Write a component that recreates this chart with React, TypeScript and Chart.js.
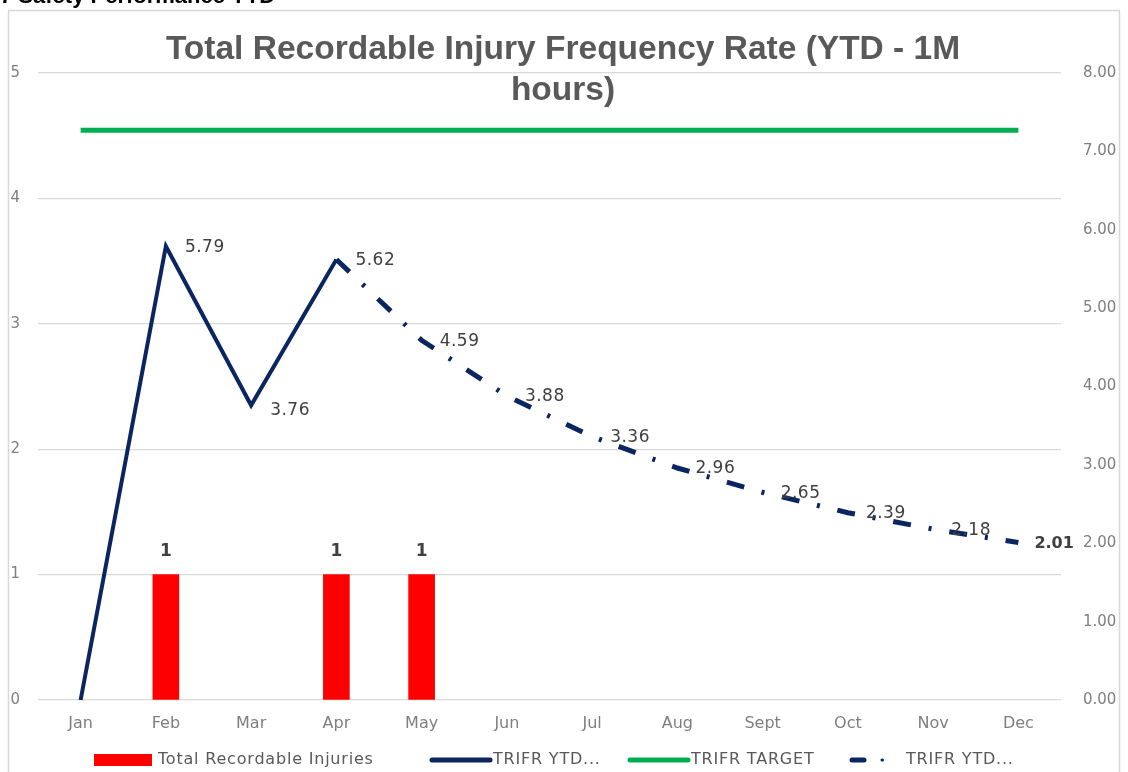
import React, { useEffect, useRef } from "react";
import { Chart, registerables } from "chart.js";

Chart.register(...registerables);

const months = ["Jan", "Feb", "Mar", "Apr", "May", "Jun", "Jul", "Aug", "Sept", "Oct", "Nov", "Dec"];
const injuries = [null, 1, null, 1, 1, null, null, null, null, null, null, null];
const trifrActual = [0, 5.79, 3.76, 5.62, null, null, null, null, null, null, null, null];
const trifrProjected = [null, null, null, 5.62, 4.59, 3.88, 3.36, 2.96, 2.65, 2.39, 2.18, 2.01];
const trifrTarget = [7.27, 7.27, 7.27, 7.27, 7.27, 7.27, 7.27, 7.27, 7.27, 7.27, 7.27, 7.27];
const leftAxisMax = 5;
const rightAxisMax = 8;
const titleLines = ["Total Recordable Injury Frequency Rate (YTD - 1M", "hours)"];
const pageHeading = "7 Safety Performance YTD";
const legendLabels = ["Total Recordable Injuries", "TRIFR YTD...", "TRIFR TARGET", "TRIFR YTD..."];

const NAVY = "#0B2560";
const GREEN = "#00B050";
const RED = "#FF0000";
const LABEL = "#404040";
const TICK = "#7F7F7F";
const FONT = "'DejaVu Sans', sans-serif";

const decorPlugin = {
  id: "decor",
  beforeDraw(chart: any) {
    const ctx = chart.ctx;
    ctx.save();
    ctx.fillStyle = "#ffffff";
    ctx.fillRect(0, 0, chart.width, chart.height);
    // outer box
    ctx.strokeStyle = "#D9D9D9";
    ctx.lineWidth = 1.5;
    ctx.beginPath();
    ctx.moveTo(8.5, chart.height + 5);
    ctx.lineTo(8.5, 10.5);
    ctx.lineTo(1119.5, 10.5);
    ctx.lineTo(1119.5, chart.height + 5);
    ctx.stroke();
    // clipped page heading
    ctx.fillStyle = "#000000";
    ctx.font = "bold 22px 'Liberation Sans', Arial, sans-serif";
    ctx.textBaseline = "alphabetic";
    ctx.textAlign = "left";
    ctx.fillText(pageHeading, 0, 3);
    // title
    ctx.fillStyle = "#595959";
    ctx.textAlign = "center";
    ctx.textBaseline = "middle";
    ctx.font = "bold 30px 'Liberation Sans', Arial, sans-serif";
    const w = ctx.measureText(titleLines[0]).width;
    const size = Math.min(34, (30 * 795) / w);
    ctx.font = `bold ${size.toFixed(1)}px 'Liberation Sans', Arial, sans-serif`;
    ctx.fillText(titleLines[0], 563, 50);
    ctx.fillText(titleLines[1], 563, 91);
    ctx.restore();
  },
  afterDatasetsDraw(chart: any) {
    const ctx = chart.ctx;
    ctx.save();
    ctx.fillStyle = LABEL;
    // bar labels
    const barMeta = chart.getDatasetMeta(0);
    ctx.font = `bold 17px ${FONT}`;
    ctx.textAlign = "center";
    ctx.textBaseline = "middle";
    barMeta.data.forEach((el: any, i: number) => {
      const v = injuries[i];
      if (v) ctx.fillText(String(v), el.x, el.y - 23);
    });
    ctx.textAlign = "left";
    (ctx as any).letterSpacing = "0.5px";
    const actualMeta = chart.getDatasetMeta(1);
    ctx.font = `17px ${FONT}`;
    actualMeta.data.forEach((el: any, i: number) => {
      const v = trifrActual[i];
      if (v === null || v === 0) return;
      ctx.fillText(v.toFixed(2), el.x + 19, el.y + (i === 2 ? 5 : 1));
    });
    const projMeta = chart.getDatasetMeta(2);
    projMeta.data.forEach((el: any, i: number) => {
      const v = trifrProjected[i];
      if (v === null || i <= 3) return;
      if (i === 11) {
        (ctx as any).letterSpacing = "0px";
        ctx.font = `bold 16px ${FONT}`;
      } else {
        (ctx as any).letterSpacing = "0.5px";
        ctx.font = `17px ${FONT}`;
      }
      ctx.fillText(v.toFixed(2), el.x + (i === 11 ? 16 : 18), el.y + 1);
    });
    ctx.restore();
  },
  afterDraw(chart: any) {
    const ctx = chart.ctx;
    ctx.save();
    const y = 760;
    ctx.font = `16px ${FONT}`;
    (ctx as any).letterSpacing = "0.8px";
    ctx.fillStyle = "#595959";
    ctx.textBaseline = "middle";
    ctx.textAlign = "left";
    // bar legend
    ctx.fillStyle = RED;
    ctx.fillRect(94, y - 6, 58, 12);
    ctx.fillStyle = "#595959";
    ctx.fillText(legendLabels[0], 158, y);
    // solid navy
    ctx.lineCap = "round";
    ctx.lineWidth = 5;
    ctx.strokeStyle = NAVY;
    ctx.beginPath();
    ctx.moveTo(432, y);
    ctx.lineTo(490, y);
    ctx.stroke();
    ctx.fillText(legendLabels[1], 493, y);
    // green
    ctx.strokeStyle = GREEN;
    ctx.beginPath();
    ctx.moveTo(630, y);
    ctx.lineTo(688, y);
    ctx.stroke();
    ctx.fillText(legendLabels[2], 691, y);
    // dashed
    ctx.strokeStyle = NAVY;
    ctx.beginPath();
    ctx.moveTo(852, y);
    ctx.lineTo(864, y);
    ctx.stroke();
    ctx.lineWidth = 3;
    ctx.beginPath();
    ctx.moveTo(882, y);
    ctx.lineTo(882.5, y);
    ctx.stroke();
    ctx.fillText(legendLabels[3], 906, y);
    ctx.restore();
  },
};

export default function App() {
  const ref = useRef<HTMLCanvasElement>(null);
  useEffect(() => {
    if (!ref.current) return;
    const chart = new Chart(ref.current, {
      type: "bar",
      data: {
        labels: months,
        datasets: [
          {
            type: "bar",
            label: legendLabels[0],
            data: injuries as any,
            backgroundColor: RED,
            barThickness: 26,
            yAxisID: "y",
            order: 3,
          },
          {
            type: "line",
            label: legendLabels[1],
            data: trifrActual as any,
            borderColor: NAVY,
            borderWidth: 4,
            pointRadius: 0,
            tension: 0,
            yAxisID: "y1",
            clip: false as any,
            order: 1,
          },
          {
            type: "line",
            label: legendLabels[3],
            data: trifrProjected as any,
            borderColor: NAVY,
            borderWidth: 5,
            borderDash: [18, 18, 3, 18],
            borderCapStyle: "butt",
            pointRadius: 0,
            tension: 0,
            yAxisID: "y1",
            order: 2,
          },
          {
            type: "line",
            label: legendLabels[2],
            data: trifrTarget,
            borderColor: GREEN,
            borderWidth: 5,
            pointRadius: 0,
            yAxisID: "y1",
            order: 2,
          },
        ],
      },
      options: {
        animation: false,
        responsive: false,
        maintainAspectRatio: false,
        layout: { padding: { top: 73, left: 0, right: 0, bottom: 0 } },
        plugins: {
          legend: { display: false },
          title: { display: false },
          tooltip: { enabled: false },
        },
        scales: {
          x: {
            offset: true,
            grid: { display: false, drawTicks: false },
            border: { display: false },
            ticks: { color: TICK, font: { family: "'DejaVu Sans', sans-serif", size: 16 }, padding: 14, maxRotation: 0 },
            afterFit: (s: any) => {
              s.height = 72;
            },
          },
          y: {
            position: "left",
            min: 0,
            max: leftAxisMax,
            ticks: { stepSize: 1, color: TICK, font: { family: "'DejaVu Sans', sans-serif", size: 15 }, padding: 18 },
            grid: { color: "#D9D9D9", lineWidth: 1.3, drawTicks: false },
            border: { display: false },
            afterFit: (s: any) => {
              s.width = 38;
            },
          },
          y1: {
            position: "right",
            min: 0,
            max: rightAxisMax,
            ticks: {
              stepSize: 1,
              color: TICK,
              font: { family: "'DejaVu Sans', sans-serif", size: 15 },
              padding: 22,
              callback: (v: any) => Number(v).toFixed(2),
            },
            grid: { display: false, drawTicks: false },
            border: { display: false },
            afterFit: (s: any) => {
              s.width = 67;
            },
          },
        },
      },
      plugins: [decorPlugin],
    });
    return () => chart.destroy();
  }, []);
  return (
    <div style={{ position: "fixed", left: 0, top: 0, width: 1128, height: 772, overflow: "hidden", background: "#fff" }}>
      <canvas ref={ref} width={1128} height={772} style={{ display: "block", width: 1128, height: 772 }} />
    </div>
  );
}
